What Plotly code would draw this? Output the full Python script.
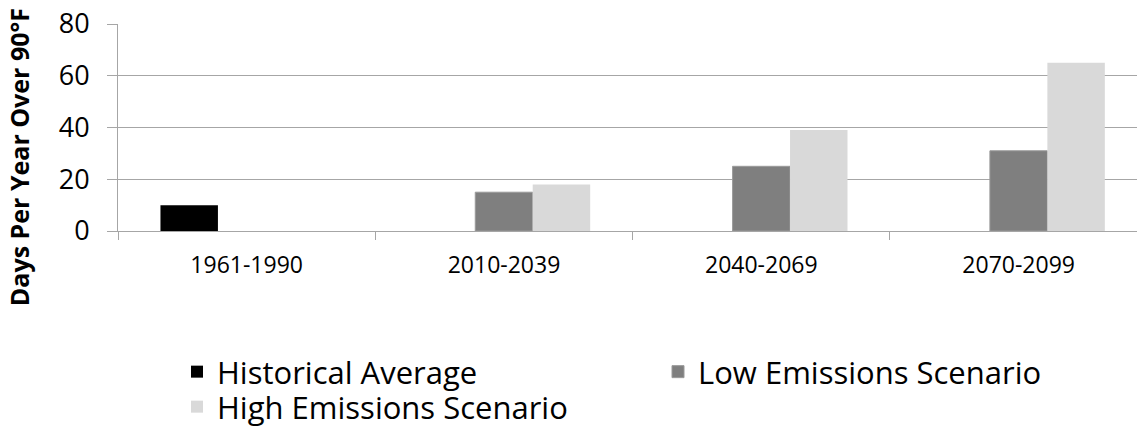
import plotly.graph_objects as go

categories = ["1961-1990", "2010-2039", "2040-2069", "2070-2099"]
historical = [10, None, None, None]
low_emissions = [None, 15, 25, 31]
high_emissions = [None, 18, 39, 65]
y_ticks = [0, 20, 40, 60, 80]

FONT = "Open Sans"
GRID = "#a6a6a6"
W, H = 1137, 427

fig = go.Figure()
fig.add_trace(go.Bar(name="Historical Average", x=categories, y=historical,
                     marker=dict(color="#000000", line=dict(width=0)), legend="legend"))
fig.add_trace(go.Bar(name="Low Emissions Scenario", x=categories, y=low_emissions,
                     marker=dict(color="#7f7f7f", line=dict(width=1, color="#9a9a9a")),
                     legend="legend"))
fig.add_trace(go.Bar(name="High Emissions Scenario", x=categories, y=high_emissions,
                     marker=dict(color="#d9d9d9", line=dict(width=0)), legend="legend2"))

legend_common = dict(
    orientation="h", xref="container", yref="container",
    xanchor="left", yanchor="middle",
    font=dict(family=FONT, size=31, color="#000000"),
    entrywidth=436, entrywidthmode="pixels",
    traceorder="normal", bgcolor="rgba(0,0,0,0)",
    itemclick=False, itemdoubleclick=False,
)

fig.update_layout(
    width=W, height=H,
    margin=dict(l=118, r=0, t=24, b=196, autoexpand=False),
    paper_bgcolor="white", plot_bgcolor="white",
    barmode="group", bargap=0.33, bargroupgap=0,
    font=dict(family=FONT, color="#000000"),
    showlegend=True,
    legend=dict(legend_common, x=177 / W, y=1 - 372 / H),
    legend2=dict(legend_common, x=177 / W, y=1 - 407 / H),
)

fig.update_xaxes(
    type="category", range=[-0.5, 3.46],
    showline=True, linecolor=GRID, linewidth=1,
    ticks="outside", tickson="boundaries", ticklen=8, tickcolor=GRID,
    tickfont=dict(family=FONT, size=23, color="#000000"),
    ticklabelstandoff=13,
    showgrid=False,
)
fig.update_yaxes(
    range=[0, 80], tickvals=y_ticks,
    showline=True, linecolor=GRID, linewidth=1,
    ticks="outside", ticklen=10, tickcolor=GRID,
    showgrid=True, gridcolor=GRID, gridwidth=1,
    zeroline=False,
    tickfont=dict(family=FONT, size=27, color="#000000"),
    ticklabelstandoff=12,
)

fig.add_annotation(
    text="<b>Days Per Year Over 90°F</b>", textangle=-90,
    xref="paper", yref="paper", x=-0.097, y=0.5 - (157 - 127.5) / 207,
    xanchor="center", yanchor="middle", showarrow=False,
    font=dict(family=FONT, size=25, color="#000000"),
)

fig.write_html(
    "out.html",
    config={"displayModeBar": False},
    post_script="document.body.style.margin='0';document.body.style.overflow='hidden';",
)
